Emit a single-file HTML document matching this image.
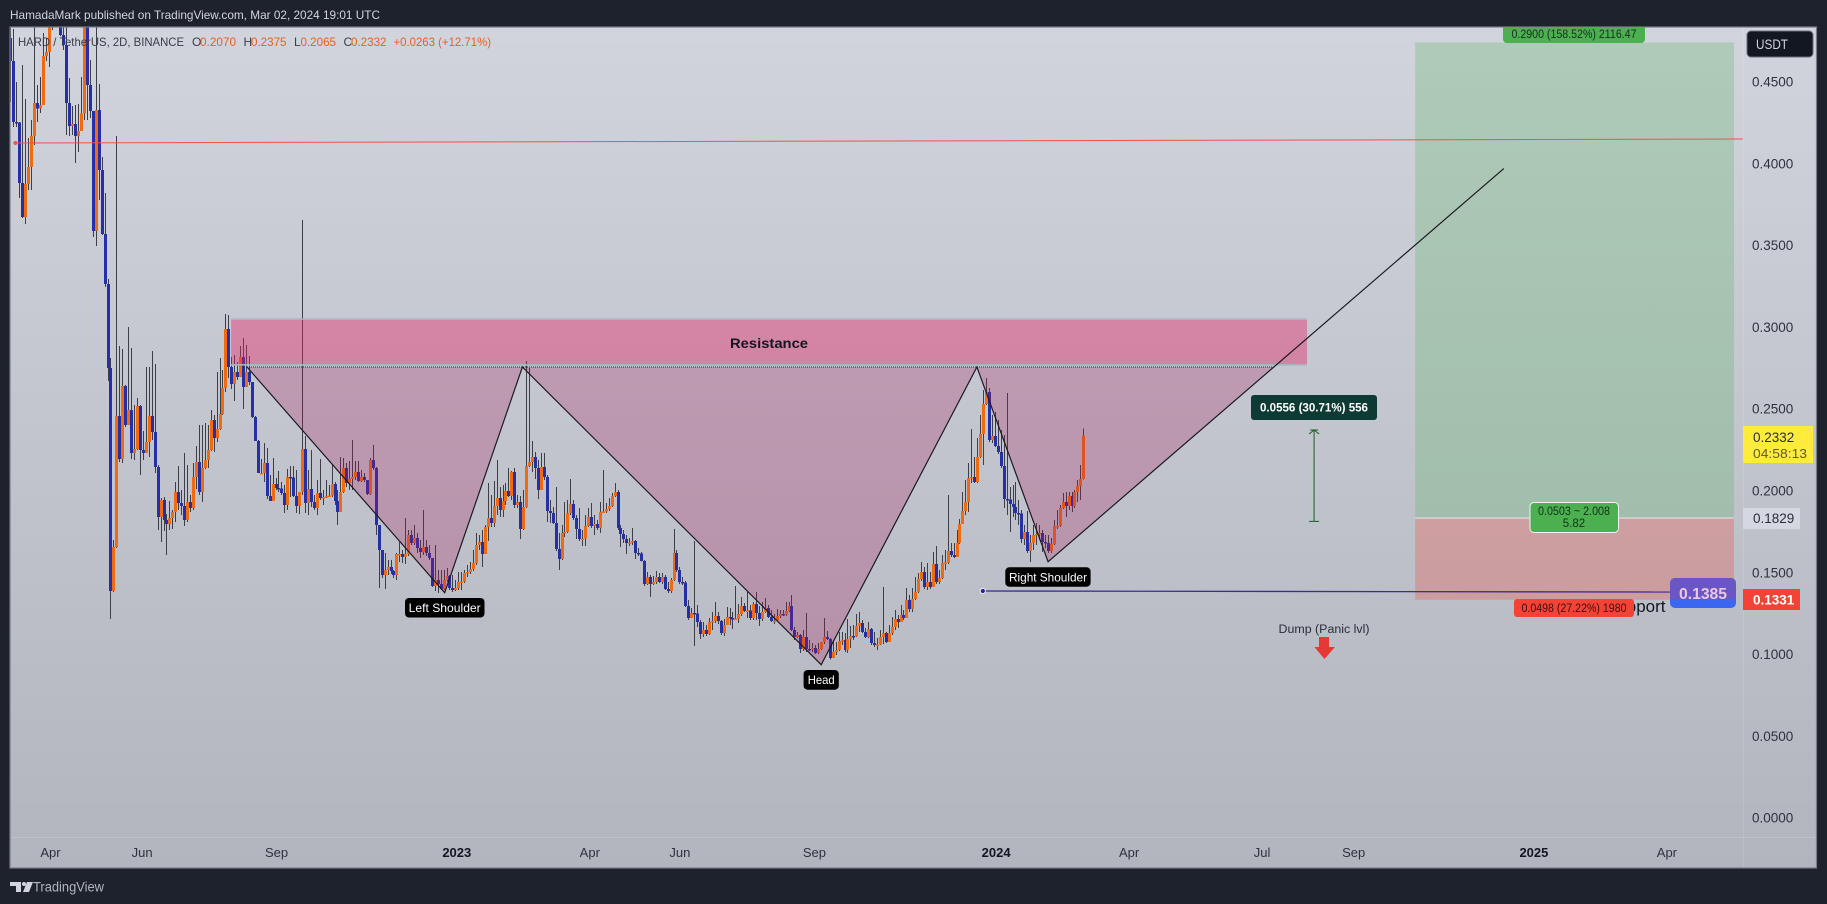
<!DOCTYPE html>
<html lang="en">
<head>
<meta charset="utf-8">
<title>HARD / TetherUS chart</title>
<style>
html,body{margin:0;padding:0;background:#1e222d;width:1827px;height:904px;overflow:hidden}
svg{display:block;font-family:"Liberation Sans",sans-serif}
</style>
</head>
<body>
<svg id="chart" xmlns="http://www.w3.org/2000/svg" width="1827" height="904" viewBox="0 0 1827 904">
  <defs>
    <linearGradient id="bgGrad" x1="0" y1="0" x2="0" y2="1">
      <stop offset="0" stop-color="#d1d4dc"/>
      <stop offset="1" stop-color="#b2b5be"/>
    </linearGradient>
    <clipPath id="plotClip"><rect x="10" y="27" width="1733" height="810"/></clipPath>
  </defs>
  <rect x="0" y="0" width="1827" height="904" fill="#1e222d"/>
  <text x="10" y="19" font-size="12" fill="#d1d4dc" textLength="370" lengthAdjust="spacingAndGlyphs">HamadaMark published on TradingView.com, Mar 02, 2024 19:01 UTC</text>
  <rect x="10" y="27" width="1806.5" height="841" fill="url(#bgGrad)"/>
  <g id="plot" clip-path="url(#plotClip)"></g>
  <line x1="1743.5" y1="27" x2="1743.5" y2="868" stroke="#ffffff" stroke-opacity="0.12"/>
  <line x1="10" y1="837.5" x2="1816" y2="837.5" stroke="#ffffff" stroke-opacity="0.16"/>
  <g id="axes"></g>

  <g font-size="12">
    <text x="18" y="46" fill="#3a3d47" textLength="166" lengthAdjust="spacingAndGlyphs">HARD / TetherUS, 2D, BINANCE</text>
    <text x="192" y="46" fill="#3a3d47">O</text>
    <text x="200" y="46" fill="#e8601c" textLength="36" lengthAdjust="spacingAndGlyphs">0.2070</text>
    <text x="243.5" y="46" fill="#3a3d47">H</text>
    <text x="251" y="46" fill="#e8601c" textLength="35.5" lengthAdjust="spacingAndGlyphs">0.2375</text>
    <text x="294" y="46" fill="#3a3d47">L</text>
    <text x="300.5" y="46" fill="#e8601c" textLength="35.5" lengthAdjust="spacingAndGlyphs">0.2065</text>
    <text x="343.5" y="46" fill="#3a3d47">C</text>
    <text x="351" y="46" fill="#e8601c" textLength="35.5" lengthAdjust="spacingAndGlyphs">0.2332</text>
    <text x="393.5" y="46" fill="#e8601c" textLength="97.5" lengthAdjust="spacingAndGlyphs">+0.0263 (+12.71%)</text>
  </g>

  <g>
    <rect x="1747" y="31" width="66" height="26" rx="4" fill="#131722" stroke="#6a6d78"/>
    <text x="1756" y="49" font-size="14" fill="#d1d4dc" textLength="32" lengthAdjust="spacingAndGlyphs">USDT</text>
  </g>

  <g>
    <rect x="1743" y="426" width="70" height="37" fill="#ffeb3b"/>
    <text x="1753" y="442" font-size="13.5" fill="#2a2e39">0.2332</text>
    <text x="1753" y="458" font-size="13" fill="#5f5c22" textLength="54" lengthAdjust="spacingAndGlyphs">04:58:13</text>
  </g>
  <g>
    <rect x="1743" y="508" width="57" height="21" fill="#d5d8e0"/>
    <text x="1753" y="523" font-size="13.5" fill="#2a2e39">0.1829</text>
  </g>
  <g>
    <rect x="1743" y="589" width="57" height="21" fill="#f44336"/>
    <text x="1753" y="604.5" font-size="13.5" font-weight="bold" fill="#ffffff">0.1331</text>
  </g>

  <rect x="10" y="27" width="1806.5" height="841" fill="none" stroke="#787b86" stroke-width="1.2"/>

  <g>
    <path d="M10 882h11v10h-5v-6h-6z M27 882h6l-4 10h-6z" fill="#d1d4dc"/>
    <circle cx="24" cy="884" r="2" fill="#d1d4dc"/>
    <text x="33" y="891.5" font-size="13.5" fill="#b2b5be" textLength="71" lengthAdjust="spacingAndGlyphs">TradingView</text>
  </g>
</svg>
<script>
// ---------- data ----------
const lastBarDate = '2024-03-02';
const barDays = 2;
const firstOpen = 0.4756;
const closes = [
.4616,.4244,.4241,.3872,.3665,.3866,.3970,.4159,.4360,.4326,
.4347,.4646,.4671,.4835,.4896,.4957,.4939,.4774,.4713,.4360,
.4220,.4232,.4159,.4189,.4296,.4866,.4469,.4311,.3579,.4317,
.3951,.3561,.3256,.2744,.1384,.1652,.2451,.2189,.2634,.2396,
.2488,.2226,.2250,.2512,.2244,.2226,.2293,.2451,.2354,.2140,
.1835,.1939,.1817,.1793,.1829,.1866,.1988,.1921,.1902,.1817,
.1927,.1890,.2079,.2171,.1988,.2134,.2183,.2244,.2427,.2317,
.2372,.2463,.2622,.2982,.2750,.2646,.2720,.2689,.2811,.2628,
.2720,.2659,.2445,.2299,.2104,.2104,.2165,.1963,.1933,.2037,
.2012,.2009,.1982,.1909,.2079,.2076,.1963,.1902,.1988,.2250,
.1921,.2006,.1927,.1890,.1982,.1951,.1957,.1963,.1967,.2037,
.1933,.1866,.1988,.2134,.2043,.2067,.2079,.2110,.2055,.2079,
.2061,.1976,.2183,.2134,.1787,.1634,.1482,.1512,.1530,.1506,
.1482,.1610,.1610,.1591,.1610,.1726,.1677,.1707,.1646,.1622,
.1652,.1616,.1585,.1415,.1451,.1427,.1396,.1451,.1476,.1402,
.1390,.1402,.1439,.1443,.1494,.1500,.1518,.1555,.1665,.1683,
.1610,.1774,.1829,.1799,.1902,.1951,.1878,.1933,.1994,.1963,
.2110,.1909,.1927,.1762,.1896,.2146,.2171,.2201,.2134,.2000,
.2140,.2079,.1872,.1860,.1799,.1640,.1579,.1738,.1744,.1860,
.1915,.1829,.1762,.1701,.1703,.1780,.1835,.1780,.1793,.1768,
.1866,.1870,.1884,.1902,.1963,.1988,.1768,.1732,.1701,.1677,
.1680,.1689,.1616,.1613,.1567,.1427,.1470,.1427,.1439,.1470,
.1439,.1470,.1396,.1384,.1451,.1616,.1512,.1439,.1436,.1293,
.1220,.1250,.1247,.1195,.1122,.1146,.1122,.1195,.1201,.1232,
.1201,.1128,.1177,.1226,.1220,.1213,.1215,.1244,.1293,.1262,
.1264,.1220,.1305,.1250,.1213,.1256,.1280,.1226,.1201,.1205,
.1232,.1244,.1241,.1262,.1293,.1146,.1104,.1116,.1030,.1104,
.1030,.1027,.1037,.1006,.1030,.1073,.1104,.1091,.0977,.1012,
.1024,.1079,.1085,.1024,.1091,.1110,.1107,.1171,.1189,.1134,
.1104,.1152,.1067,.1055,.1057,.1104,.1128,.1073,.1128,.1165,
.1213,.1195,.1238,.1220,.1329,.1274,.1335,.1378,.1457,.1500,
.1409,.1439,.1409,.1549,.1439,.1463,.1555,.1557,.1628,.1604,
.1591,.1677,.1793,.1872,.1927,.2073,.2079,.2049,.2201,.2341,
.2524,.2598,.2305,.2329,.2268,.2232,.2146,.1945,.1942,.1915,
.1896,.1860,.1857,.1701,.1744,.1628,.1677,.1726,.1732,.1738,
.1683,.1677,.1628,.1671,.1780,.1782,.1890,.1927,.1902,.1963,
.1902,.1988,.2024,.2067,.2332];
const highs = [
.4823,.4811,.4488,.4244,.4592,.4384,.4146,.4256,.4823,.4470,
.4518,.4787,.4756,.4927,.4957,.5018,.5018,.4957,.4866,.4823,
.4512,.4341,.4348,.4354,.4518,.4957,.4927,.4622,.4299,.4823,
.4476,.4030,.3811,.3287,.2805,.1695,.4159,.2878,.2860,.2640,
.2994,.2866,.2518,.2561,.2518,.2360,.2750,.2750,.2848,.2768,
.2152,.1951,.1957,.1854,.1933,.1878,.2049,.2146,.2000,.2226,
.2152,.1970,.2165,.2268,.2396,.2396,.2409,.2396,.2488,.2457,
.2720,.2805,.2732,.3073,.3067,.2811,.2823,.2780,.2878,.2927,
.2884,.2817,.2659,.2451,.2305,.2189,.2287,.2256,.2091,.2195,
.2073,.2116,.2049,.2030,.2128,.2146,.2146,.2122,.1988,.3646,
.2329,.2122,.2244,.1970,.2061,.2189,.2000,.2061,.2030,.2159,
.2049,.2000,.2201,.2195,.2165,.2177,.2305,.2177,.2177,.2122,
.2104,.2061,.2195,.2274,.2140,.1787,.1634,.1616,.1573,.1573,
.1512,.1616,.1683,.1634,.1829,.1756,.1756,.1787,.1738,.1695,
.1878,.1695,.1665,.1585,.1665,.1512,.1512,.1512,.1524,.1482,
.1482,.1451,.1500,.1500,.1512,.1543,.1561,.1634,.1738,.1726,
.1756,.1787,.2043,.1970,.2055,.2183,.2018,.2030,.2043,.2134,
.2116,.2134,.1970,.1963,.2000,.2787,.2744,.2299,.2232,.2183,
.2226,.2226,.2091,.1939,.1896,.2018,.1738,.1787,.1927,.1939,
.2067,.1939,.1848,.1890,.1756,.1848,.1890,.1921,.1848,.1817,
.1927,.2122,.1921,.1951,.1982,.2043,.2000,.1787,.1756,.1726,
.1707,.1768,.1695,.1646,.1622,.1573,.1500,.1482,.1476,.1506,
.1494,.1494,.1482,.1439,.1463,.1762,.1634,.1530,.1470,.1445,
.1329,.1280,.1689,.1299,.1207,.1195,.1177,.1220,.1256,.1317,
.1256,.1207,.1213,.1287,.1280,.1256,.1415,.1305,.1348,.1311,
.1378,.1299,.1317,.1378,.1293,.1317,.1341,.1299,.1268,.1244,
.1274,.1268,.1268,.1317,.1317,.1360,.1165,.1134,.1122,.1146,
.1250,.1085,.1067,.1055,.1067,.1073,.1220,.1140,.1098,.1085,
.1073,.1134,.1134,.1128,.1213,.1171,.1177,.1244,.1256,.1207,
.1159,.1195,.1159,.1134,.1098,.1146,.1409,.1134,.1177,.1226,
.1268,.1238,.1299,.1268,.1402,.1360,.1402,.1470,.1494,.1561,
.1530,.1555,.1500,.1622,.1659,.1512,.1604,.1634,.1970,.1677,
.1677,.1756,.1823,.1988,.2061,.2165,.2372,.2201,.2317,.2457,
.2610,.2683,.2622,.2457,.2476,.2427,.2366,.2335,.2591,.2018,
.2030,.2049,.1939,.1878,.1787,.1872,.1726,.1787,.1799,.1787,
.1756,.1726,.1726,.1707,.1817,.1878,.1909,.1982,.1988,.1988,
.1988,.2000,.2061,.2152,.2375];
const lows = [
.4366,.4213,.4213,.3780,.3659,.3622,.3829,.3829,.4104,.4244,
.4299,.4378,.4616,.4579,.4805,.4866,.4866,.4768,.4683,.4165,
.4159,.4165,.3994,.4061,.4226,.4256,.4256,.4268,.3543,.3488,
.3768,.3555,.3238,.2665,.1213,.1378,.1646,.2171,.2165,.2384,
.2396,.2189,.2183,.2244,.2091,.2183,.2226,.2201,.2305,.2104,
.1756,.1683,.1750,.1604,.1756,.1762,.1805,.1878,.1848,.1780,
.1805,.1866,.1878,.2006,.1970,.1927,.2128,.2134,.2238,.2232,
.2293,.2366,.2457,.2598,.2683,.2616,.2543,.2671,.2689,.2494,
.2628,.2640,.2439,.2299,.2104,.2098,.2049,.1945,.1933,.1939,
.2000,.1988,.1970,.1860,.1878,.1957,.1957,.1860,.1854,.1970,
.1860,.1848,.1896,.1878,.1848,.1939,.1909,.1951,.1957,.1957,
.1909,.1787,.1866,.1982,.2018,.2000,.2000,.2061,.2049,.2049,
.2049,.1970,.1970,.2122,.1726,.1402,.1463,.1396,.1482,.1488,
.1463,.1451,.1561,.1555,.1549,.1598,.1665,.1665,.1616,.1585,
.1604,.1598,.1573,.1409,.1384,.1372,.1390,.1390,.1439,.1390,
.1378,.1384,.1390,.1390,.1433,.1470,.1488,.1506,.1543,.1634,
.1530,.1646,.1689,.1774,.1774,.1848,.1835,.1835,.1909,.1957,
.1939,.1890,.1890,.1701,.1756,.1890,.2140,.2110,.2067,.1945,
.2000,.2061,.1805,.1799,.1793,.1628,.1512,.1573,.1713,.1738,
.1848,.1817,.1701,.1689,.1659,.1659,.1774,.1768,.1726,.1756,
.1738,.1860,.1860,.1872,.1896,.1957,.1756,.1653,.1677,.1610,
.1659,.1665,.1579,.1598,.1564,.1415,.1421,.1348,.1421,.1427,
.1433,.1427,.1390,.1372,.1372,.1445,.1500,.1427,.1421,.1287,
.1207,.1220,.1049,.1165,.1091,.1104,.1110,.1116,.1146,.1189,
.1183,.1116,.1110,.1177,.1177,.1152,.1207,.1189,.1232,.1256,
.1220,.1207,.1207,.1207,.1171,.1201,.1250,.1220,.1195,.1183,
.1201,.1220,.1232,.1232,.1256,.1140,.1085,.1098,.1006,.1018,
.1012,.1018,.1012,.1000,.1000,.1024,.1061,.1085,.0965,.0976,
.0994,.1018,.1055,.1012,.1006,.1037,.1085,.1104,.1134,.1128,
.1098,.1098,.1055,.1043,.1024,.1055,.1061,.1067,.1073,.1116,
.1146,.1159,.1195,.1207,.1220,.1256,.1256,.1329,.1372,.1445,
.1396,.1390,.1396,.1409,.1427,.1427,.1457,.1512,.1549,.1591,
.1585,.1591,.1671,.1799,.1848,.1866,.2043,.2043,.2043,.2195,
.2152,.2518,.2293,.2287,.2262,.2220,.2134,.1890,.1848,.1744,
.1835,.1817,.1787,.1677,.1665,.1616,.1561,.1634,.1665,.1695,
.1622,.1646,.1616,.1616,.1665,.1762,.1774,.1884,.1835,.1878,
.1866,.1890,.1927,.1939,.2065];

const priceTicks = [0.45,0.40,0.35,0.30,0.25,0.20,0.15,0.10,0.05,0.00];
const timeTickLabels = ['Apr','Jun','Sep','2023','Apr','Jun','Sep','2024','Apr','Jul','Sep','2025','Apr'];
const timeTickDates = ['2022-04-03','2022-06-04','2022-09-03','2023-01-03','2023-04-03','2023-06-03','2023-09-02','2024-01-03','2024-04-02','2024-07-01','2024-09-01','2025-01-01','2025-04-01'];

// drawings: bars relative to the last candle, and prices
const patternBars = [-283.0,-216.1,-189.8,-88.7,-36.0,-11.9,142.3];
const patternPrices = [0.275,0.1374,0.275,0.0935,0.275,0.1563,0.396];
const patternFillBars = [-283.0,-216.1,-189.8,-88.7,-36.0,-11.9,64.4];
const patternFillPrices = [0.275,0.1374,0.275,0.0935,0.275,0.1563,0.275];
const neckBars = [-283.0,64.4];
const neckPrice = 0.275;
const resistanceBars = [-288.4,75.7];
const resistancePrices = [0.3037,0.2768];
const positionBars = [112.3,220.2];
const targetPrice = 0.4729;
const entryPrice = 0.1829;
const stopPrice = 0.1331;
const redLineBars = [-361.4,223.2];
const redLinePrices = [0.4116,0.4140];
const supportLineBars = [-34.0,198.5];
const supportLinePrices = [0.1384,0.1378];
const measureBar = 78.1;
const measurePrices = [0.1809,0.2366];

// ---------- axis functions ----------
const lastBarX = 1083.3;
const barStep = 2.955;
const candleStep = 2.948;
const NS = 'http://www.w3.org/2000/svg';
const MS_DAY = 86400000;
function Y(price){ return 818 - 1640 * price; }
function tickY(price){ return 654.4 + (0.1 - price) * 1636; }
function XB(barsFromLast){ return lastBarX + barsFromLast * barStep; }
function XC(barsFromLast){ return lastBarX + barsFromLast * candleStep; }
function XD(dateStr){
  const days = (Date.parse(dateStr) - Date.parse(lastBarDate)) / MS_DAY;
  return XB(days / barDays);
}
function mk(tag, attrs, parent){
  const el = document.createElementNS(NS, tag);
  for (const k in attrs) el.setAttribute(k, attrs[k]);
  parent.appendChild(el);
  return el;
}
function pts(bars, prices){
  return bars.map((b, i) => XB(b).toFixed(1) + ',' + Y(prices[i]).toFixed(1)).join(' ');
}
const plot = document.getElementById('plot');
const axes = document.getElementById('axes');

// ---------- candles: every wick first, then every body on top ----------
const candleCount = closes.length;
for (let i = 0; i < candleCount; i++) {
  const cx = Math.round(XC(i - (candleCount - 1)));
  const wick = mk('rect', {x: cx, y: Y(highs[i]).toFixed(1), width: 1, height: Math.max(1, Y(lows[i]) - Y(highs[i])).toFixed(1), fill: '#3c3f47', 'shape-rendering': 'crispEdges'}, plot);
  
  
}
for (let i = 0; i < candleCount; i++) {
  const open = i === 0 ? firstOpen : closes[i - 1];
  const close = closes[i];
  const up = close >= open;
  const cx = Math.round(XC(i - (candleCount - 1)));
  const top = Y(Math.max(open, close));
  const bot = Y(Math.min(open, close));
  const body = mk('rect', {x: cx - 1, y: top.toFixed(1), width: 3, height: Math.max(1.5, bot - top).toFixed(1), fill: up ? '#f26a10' : '#2530a6', 'shape-rendering': 'crispEdges'}, plot);
  
  
}

// ---------- position zones ----------
const longZone = mk('rect', {x: XB(positionBars[0]), y: Y(targetPrice), width: XB(positionBars[1]) - XB(positionBars[0]), height: Y(entryPrice) - Y(targetPrice), fill: 'rgba(76,175,80,0.25)'}, plot);


const stopZone = mk('rect', {x: XB(positionBars[0]), y: Y(entryPrice), width: XB(positionBars[1]) - XB(positionBars[0]), height: Y(stopPrice) - Y(entryPrice), fill: 'rgba(244,67,54,0.28)'}, plot);


const entryLine = mk('line', {x1: XB(positionBars[0]), x2: XB(positionBars[1]), y1: Y(entryPrice), y2: Y(entryPrice), stroke: '#e6e8ee', 'stroke-width': 1}, plot);



// ---------- resistance ----------
const resBox = mk('rect', {x: XB(resistanceBars[0]), y: Y(resistancePrices[0]), width: XB(resistanceBars[1]) - XB(resistanceBars[0]), height: Y(resistancePrices[1]) - Y(resistancePrices[0]), fill: 'rgba(233,30,99,0.4)'}, plot);


const resTop = mk('line', {x1: XB(resistanceBars[0]), x2: XB(resistanceBars[1]), y1: Y(resistancePrices[0]) - 0.8, y2: Y(resistancePrices[0]) - 0.8, stroke: '#aeb1bb', 'stroke-width': 1.6}, plot);


const resBottom = mk('line', {x1: XB(resistanceBars[0]), x2: XB(resistanceBars[1]), y1: Y(resistancePrices[1]) + 0.8, y2: Y(resistancePrices[1]) + 0.8, stroke: '#aeb1bb', 'stroke-width': 1.6}, plot);



// ---------- pattern ----------
const patFill = mk('polygon', {points: pts(patternFillBars, patternFillPrices), fill: 'rgba(173,20,87,0.25)'}, plot);


const patLine = mk('polyline', {points: pts(patternBars, patternPrices), fill: 'none', stroke: '#1c1a20', 'stroke-width': 1.2}, plot);


const neck = mk('line', {x1: XB(neckBars[0]), x2: XB(neckBars[1]), y1: Y(neckPrice), y2: Y(neckPrice), stroke: '#23232b', 'stroke-width': 1, 'stroke-dasharray': '1 1'}, plot);



// ---------- horizontal rays ----------
const redLine = mk('line', {x1: XB(redLineBars[0]), x2: XB(redLineBars[1]), y1: Y(redLinePrices[0]), y2: Y(redLinePrices[1]), stroke: '#ef5350', 'stroke-width': 1}, plot);


const redDot = mk('circle', {cx: XB(redLineBars[0]), cy: Y(redLinePrices[0]), r: 2, fill: '#ef5350'}, plot);


const supLine = mk('line', {x1: XB(supportLineBars[0]), x2: XB(supportLineBars[1]), y1: Y(supportLinePrices[0]), y2: Y(supportLinePrices[1]), stroke: '#3b2c96', 'stroke-width': 1.3}, plot);


const supDot = mk('circle', {cx: XB(supportLineBars[0]), cy: Y(supportLinePrices[0]), r: 2.6, fill: '#2a1fa0', stroke: '#eef0f5', 'stroke-width': 1}, plot);



// ---------- measure arrow ----------
const mx = XB(measureBar), my0 = Y(measurePrices[0]), my1 = Y(measurePrices[1]);
const mLine = mk('path', {d: `M${mx} ${my0}V${my1}M${mx - 5} ${my0}H${mx + 5}M${mx - 5} ${my1 + 4}L${mx} ${my1}L${mx + 5} ${my1 + 4}M${mx - 4} ${my1}H${mx + 4}`, fill: 'none', stroke: '#1b5e20', 'stroke-width': 1}, plot);



// ---------- price ticks ----------
for (let i = 0; i < priceTicks.length; i++) {
  const t = mk('text', {x: 1752, y: (tickY(priceTicks[i]) + 4.7).toFixed(1), 'font-size': 13.5, fill: '#2f323c'}, axes);
  t.textContent = priceTicks[i].toFixed(4);
  
  
}
// ---------- time ticks ----------
for (let i = 0; i < timeTickLabels.length; i++) {
  const bold = /^\d{4}$/.test(timeTickLabels[i]);
  const t = mk('text', {x: XD(timeTickDates[i]).toFixed(1), y: 857, 'font-size': 13, 'text-anchor': 'middle', 'font-weight': bold ? 'bold' : 'normal', fill: bold ? '#131722' : '#2f323c'}, axes);
  t.textContent = timeTickLabels[i];
  
  
}
</script>
<svg xmlns="http://www.w3.org/2000/svg" width="1827" height="904" viewBox="0 0 1827 904" style="position:absolute;left:0;top:0;pointer-events:none">
  <text x="730" y="348" font-size="14" font-weight="bold" fill="#131722" textLength="78" lengthAdjust="spacingAndGlyphs" style="font-family:'Liberation Sans',sans-serif">Resistance</text>
  <g style="font-family:'Liberation Sans',sans-serif">
    <rect x="405" y="598" width="79.5" height="19.5" rx="4" fill="#000"/>
    <text x="444.7" y="612" text-anchor="middle" font-size="12" fill="#fff" textLength="72" lengthAdjust="spacingAndGlyphs">Left Shoulder</text>
    <rect x="803.6" y="670" width="35.2" height="19.7" rx="4" fill="#000"/>
    <text x="821.2" y="684" text-anchor="middle" font-size="12" fill="#fff" textLength="27" lengthAdjust="spacingAndGlyphs">Head</text>
    <rect x="1005.3" y="567.3" width="85.3" height="19.4" rx="4" fill="#000"/>
    <text x="1048" y="581.3" text-anchor="middle" font-size="12" fill="#fff" textLength="78" lengthAdjust="spacingAndGlyphs">Right Shoulder</text>

    <rect x="1251" y="395" width="126" height="25" rx="3" fill="#0d3b33"/>
    <text x="1314" y="411.5" text-anchor="middle" font-size="12" font-weight="bold" fill="#fff" textLength="108" lengthAdjust="spacingAndGlyphs">0.0556 (30.71%) 556</text>

    <text x="1324" y="633" text-anchor="middle" font-size="11.5" fill="#2a2e39" textLength="91" lengthAdjust="spacingAndGlyphs">Dump (Panic lvl)</text>
    <polygon points="1319,637 1329,637 1329,647 1335,647 1324.5,659 1314.4,647 1319,647" fill="#e53935"/>

    <path d="M1503 27H1645V39a4 4 0 0 1-4 4H1507a4 4 0 0 1-4-4z" fill="#4caf50"/>
    <text x="1574" y="38" text-anchor="middle" font-size="11.5" fill="#12331a" textLength="125" lengthAdjust="spacingAndGlyphs">0.2900 (158.52%) 2116.47</text>

    <rect x="1530" y="502.5" width="88.5" height="30" rx="4" fill="#4caf50" stroke="#f2f4f7" stroke-width="1"/>
    <text x="1574" y="515" text-anchor="middle" font-size="11.5" fill="#12331a" textLength="72" lengthAdjust="spacingAndGlyphs">0.0503 ~ 2.008</text>
    <text x="1574" y="527" text-anchor="middle" font-size="11.5" fill="#12331a">5.82</text>

    <text x="1665.5" y="612" text-anchor="end" font-size="17" fill="#131722">Support</text>
    <rect x="1514" y="599" width="120" height="18" rx="3" fill="#f44336"/>
    <text x="1574" y="612" text-anchor="middle" font-size="11.5" fill="#3a0f0c" textLength="105" lengthAdjust="spacingAndGlyphs">0.0498 (27.22%) 1980</text>

    <rect x="1670" y="578" width="66" height="30" rx="5" fill="#3a66f0"/>
    <path d="M1675 578H1731a5 5 0 0 1 5 5V599.7H1670V583a5 5 0 0 1 5-5z" fill="#6a56c4"/>
    <text x="1703" y="599" text-anchor="middle" font-size="16" font-weight="bold" fill="#e9c8e2" textLength="48" lengthAdjust="spacingAndGlyphs">0.1385</text>
  </g>
</svg>
</body>
</html>
